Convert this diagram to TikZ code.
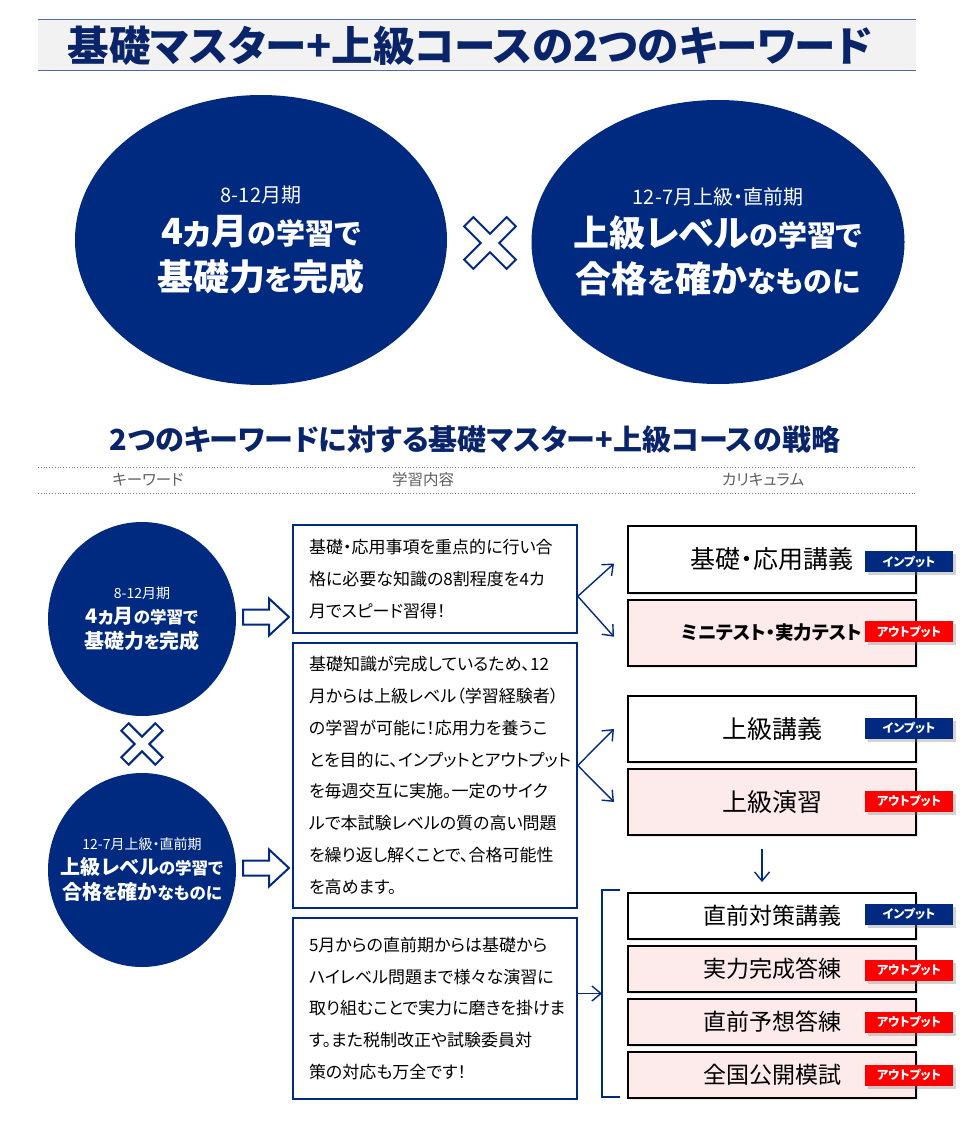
\documentclass[tikz,border=0pt]{standalone}
\usepackage{fontspec}
\setmainfont{Noto Sans CJK JP}[RawFeature=+palt]
\usetikzlibrary{shapes.geometric, arrows.meta, calc, shadows, positioning}
\tikzset{>={Straight Barb[length=9pt,width=15pt]}}

\definecolor{navy}{RGB}{0,42,128}
\definecolor{titlenavy}{RGB}{10,36,106}
\definecolor{tagred}{RGB}{255,0,0}
\definecolor{pinkfill}{RGB}{253,234,234}
\definecolor{bandgray}{RGB}{242,242,242}
\definecolor{headgray}{RGB}{95,95,95}

\newcommand\jpsize[2]{{\fontsize{#1}{#1}\selectfont #2}}

\tikzset{
    keyoval/.style={ellipse, fill=navy, inner sep=0pt},
    keytext/.style={text=white, inner sep=0pt, align=center},
    memo/.style={draw=navy, line width=1.6pt, fill=white, align=left, inner xsep=16pt,
        text width=252pt, minimum width=284pt, font=\fontsize{17}{31.8}\selectfont},
    course/.style={draw=black, line width=2pt, minimum width=288pt,
        drop shadow={opacity=0.2, shadow xshift=1.5pt, shadow yshift=-1.5pt}},
    inputtag/.style={fill=navy, text=white, minimum width=88pt, minimum height=21pt, inner sep=0pt,
        font=\bfseries\fontsize{12}{12}\selectfont,
        drop shadow={opacity=0.35, shadow xshift=3pt, shadow yshift=-3pt}},
    outputtag/.style={inputtag, fill=tagred},
    link/.style={navy, line width=1.4pt},
    headtext/.style={text=headgray, font=\fontsize{15.5}{15.5}\selectfont},
    crossmark/.pic={
        \draw[navy, line width=2pt, fill=white, rotate=45]
            (6.5,6.5)--(30,6.5)--(30,-6.5)--(6.5,-6.5)--(6.5,-30)--(-6.5,-30)--(-6.5,-6.5)
            --(-30,-6.5)--(-30,6.5)--(-6.5,6.5)--(-6.5,30)--(6.5,30)--cycle;},
    hollowarrow/.pic={
        \draw[navy, line width=2pt, fill=white]
            (0,-7.5)--(26,-7.5)--(26,-18.5)--(46,0)--(26,18.5)--(26,7.5)--(0,7.5)--cycle;}
}

\begin{document}
\begin{tikzpicture}[x=1pt, y=-1pt]
    \useasboundingbox (0,0) rectangle (960,1137);
    % title band
    \fill[bandgray] (38,20) rectangle (916,71);
    \draw[navy!70, line width=1pt] (38,20) -- (916,20) (38,71) -- (916,71);
    \node[text=titlenavy, font=\bfseries\fontsize{41.5}{41.5}\selectfont] (title) at (470,46)
        {基礎マスター+上級コースの2つのキーワード};

    % two keywords
    \node[keyoval, minimum width=372pt, minimum height=290pt] (kw1) at (261,240) {};
    \node[keytext, font=\bfseries\fontsize{29}{46}\selectfont] (kw1txt) at (kw1.center)
        {{\mdseries\jpsize{20}{8-12月期}}\\[-4pt]
         \jpsize{36}{4ヵ月}の学習で\\
         \jpsize{36}{基礎力}を\jpsize{36}{完成}};
    \node[keyoval, minimum width=373pt, minimum height=284pt] (kw2) at (718,242) {};
    \node[keytext, font=\bfseries\fontsize{29}{46}\selectfont] (kw2txt) at (kw2.center)
        {{\mdseries\jpsize{20}{12-7月上級・直前期}}\\[-4pt]
         \jpsize{36}{上級レベル}の学習で\\
         \jpsize{36}{合格}を\jpsize{36}{確か}なものに};
    \pic at (490,243) {crossmark};

    % strategy heading
    \node[text=titlenavy, font=\bfseries\fontsize{29}{29}\selectfont] (subtitle) at (475,440)
        {2つのキーワードに対する基礎マスター+上級コースの戦略};
    \draw[gray, dotted, line width=0.8pt] (38,467) -- (916,467) (38,493) -- (916,493);
    \node[headtext] (h1) at (148,480) {キーワード};
    \node[headtext] (h2) at (423,480) {学習内容};
    \node[headtext] (h3) at (763,480) {カリキュラム};

    % keyword circles
    \node[keyoval, minimum width=188pt, minimum height=194pt] (k1) at (142,619) {};
    \node[keytext, font=\bfseries\fontsize{16.5}{25}\selectfont] (k1txt) at (k1.center)
        {{\mdseries\jpsize{14}{8-12月期}}\\
         \jpsize{20}{4ヵ月}の学習で\\
         \jpsize{20}{基礎力}を\jpsize{20}{完成}};
    \node[keyoval, minimum width=188pt, minimum height=194pt] (k2) at (142,870) {};
    \node[keytext, font=\bfseries\fontsize{16.5}{25}\selectfont] (k2txt) at (k2.center)
        {{\mdseries\jpsize{14}{12-7月上級・直前期}}\\
         \jpsize{20}{上級レベル}の学習で\\
         \jpsize{20}{合格}を\jpsize{20}{確か}なものに};
    \pic[scale=0.8] at (142,744) {crossmark};
    \pic at (243,617) {hollowarrow};
    \pic at (243,868) {hollowarrow};

    % study contents
    \node[memo, minimum height=108pt] (m1) at (435,579)
        {基礎・応用事項を重点的に行い合\\
         格に必要な知識の8割程度を4カ\\
         月でスピード習得！};
    \node[memo, minimum height=265pt, below=8.4pt of m1] (m2)
        {基礎知識が完成しているため、12\\
         月からは上級レベル（学習経験者）\\
         の学習が可能に！応用力を養うこ\\
         とを目的に、インプットとアウトプット\\
         を毎週交互に実施。一定のサイク\\
         ルで本試験レベルの質の高い問題\\
         を繰り返し解くことで、合格可能性\\
         を高めます。};
    \node[memo, minimum height=181pt, below=8.4pt of m2] (m3)
        {5月からの直前期からは基礎から\\
         ハイレベル問題まで様々な演習に\\
         取り組むことで実力に磨きを掛けま\\
         す。また税制改正や試験委員対\\
         策の対応も万全です！};

    % curriculum
    \node[course, fill=white, minimum height=67pt, font=\fontsize{25}{25}\selectfont] (c1) at (772,559.5) {基礎・応用講義};
    \node[course, fill=pinkfill, minimum height=66.5pt, font=\bfseries\fontsize{18.5}{18.5}\selectfont, below=4.5pt of c1] (c2) {ミニテスト・実力テスト};
    \node[course, fill=white, minimum height=66pt, font=\fontsize{25}{25}\selectfont, below=28pt of c2] (c3) {上級講義};
    \node[course, fill=pinkfill, minimum height=66pt, font=\fontsize{25}{25}\selectfont, below=5pt of c3] (c4) {上級演習};
    \node[course, fill=white, minimum height=46pt, font=\fontsize{23}{23}\selectfont, below=56pt of c4] (c5) {直前対策講義};
    \node[course, fill=pinkfill, minimum height=46pt, font=\fontsize{23}{23}\selectfont, below=5pt of c5] (c6) {実力完成答練};
    \node[course, fill=pinkfill, minimum height=46pt, font=\fontsize{23}{23}\selectfont, below=5pt of c6] (c7) {直前予想答練};
    \node[course, fill=pinkfill, minimum height=46pt, font=\fontsize{23}{23}\selectfont, below=5pt of c7] (c8) {全国公開模試};

    \node[inputtag] (t1) at ([xshift=-8pt, yshift=-2pt]c1.east) {インプット};
    \node[outputtag] (t2) at ([xshift=-8pt, yshift=1pt]c2.east) {アウトプット};
    \node[inputtag] (t3) at ([xshift=-8pt, yshift=1pt]c3.east) {インプット};
    \node[outputtag] (t4) at ([xshift=-8pt, yshift=1pt]c4.east) {アウトプット};
    \node[inputtag] (t5) at ([xshift=-8pt, yshift=2pt]c5.east) {インプット};
    \node[outputtag] (t6) at ([xshift=-8pt, yshift=-1pt]c6.east) {アウトプット};
    \node[outputtag] (t7) at ([xshift=-8pt]c7.east) {アウトプット};
    \node[outputtag] (t8) at ([xshift=-8pt]c8.east) {アウトプット};

    % connectors
    \coordinate (g1) at ($(c1.south)!.5!(c2.north)$);
    \coordinate (b1) at (m1.east |- g1);
    \draw[link, ->] (b1) -- ([xshift=-13pt, yshift=-4pt]c1.west);
    \draw[link, ->] (b1) -- ([xshift=-13pt, yshift=-4pt]c2.west);
    \coordinate (g2) at ($(c3.south)!.5!(c4.north)$);
    \coordinate (b2) at (m2.east |- g2);
    \draw[link, ->] (b2) -- ([xshift=-13pt]c3.west);
    \draw[link, ->] (b2) -- ([xshift=-13pt]c4.west);
    \draw[link, ->] ([xshift=-10pt, yshift=-13pt]c4.south) -- ([xshift=-10pt, yshift=10pt]c5.north);
    \coordinate (bt) at ([xshift=-7pt, yshift=2pt]c5.north west);
    \coordinate (bb) at ([xshift=-7pt, yshift=2pt]c8.south west);
    \draw[link] (bt) -- ++(-18,0) |- (bb);
    \coordinate (bm) at ($(bt)!.5!(bb) + (-18,0)$);
    \draw[link, ->] (m3.east |- bm) -- (bm);
\end{tikzpicture}
\end{document}
